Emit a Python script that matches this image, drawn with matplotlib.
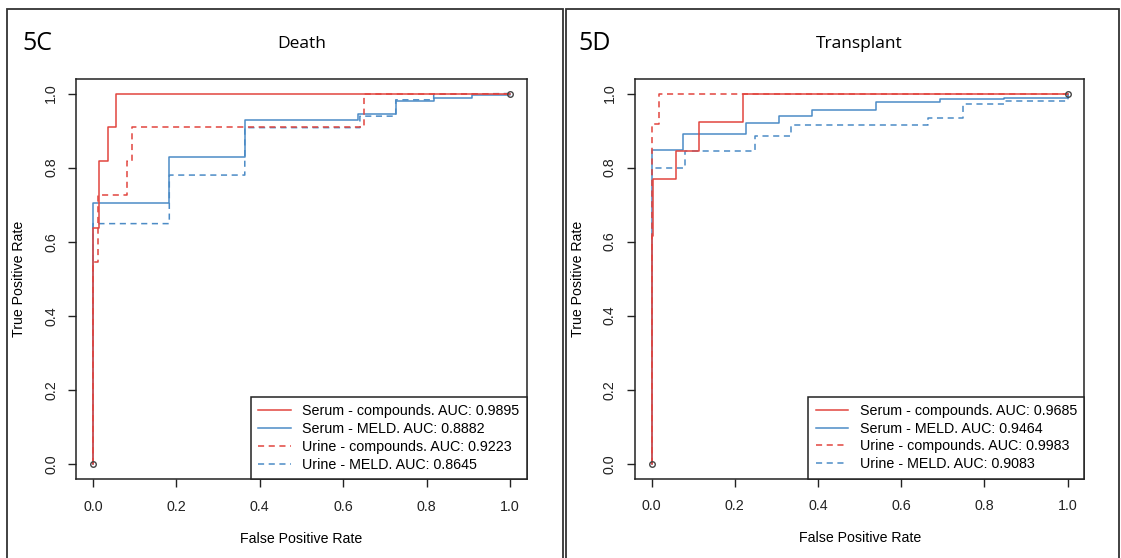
import matplotlib
matplotlib.use("Agg")
import matplotlib.pyplot as plt
from matplotlib.patches import Rectangle

plt.rcParams['font.family'] = ['Liberation Sans', 'DejaVu Sans']

RED = '#E2453F'
BLUE = '#4C8BC6'

# ROC points (fpr, tpr), panel 5C - Death
death_serum_cmp_fpr = [0, 0, 0.015, 0.015, 0.037, 0.037, 0.056, 0.056, 1]
death_serum_cmp_tpr = [0, 0.636, 0.636, 0.818, 0.818, 0.909, 0.909, 1, 1]
death_serum_meld_fpr = [0, 0, 0.183, 0.183, 0.364, 0.364, 0.635, 0.635, 0.726, 0.726,
                        0.817, 0.817, 0.909, 0.909, 1, 1]
death_serum_meld_tpr = [0, 0.705, 0.705, 0.83, 0.83, 0.928, 0.928, 0.946, 0.946, 0.98,
                        0.98, 0.987, 0.987, 0.995, 0.995, 1]
death_urine_cmp_fpr = [0, 0, 0.011, 0.011, 0.081, 0.081, 0.093, 0.093, 0.649, 0.649, 1]
death_urine_cmp_tpr = [0, 0.545, 0.545, 0.727, 0.727, 0.818, 0.818, 0.909, 0.909, 1, 1]
death_urine_meld_fpr = [0, 0, 0.183, 0.183, 0.364, 0.364, 0.64, 0.64, 0.726, 0.726,
                        0.817, 0.817, 1]
death_urine_meld_tpr = [0, 0.649, 0.649, 0.78, 0.78, 0.908, 0.908, 0.939, 0.939, 0.983,
                        0.983, 0.998, 1]

# panel 5D - Transplant
tx_serum_cmp_fpr = [0, 0, 0.004, 0.004, 0.059, 0.059, 0.114, 0.114, 0.22, 0.22, 1]
tx_serum_cmp_tpr = [0, 0.615, 0.615, 0.769, 0.769, 0.846, 0.846, 0.923, 0.923, 1, 1]
tx_serum_meld_fpr = [0, 0, 0.075, 0.075, 0.228, 0.228, 0.306, 0.306, 0.385, 0.385,
                     0.54, 0.54, 0.692, 0.692, 0.846, 0.846, 1, 1]
tx_serum_meld_tpr = [0, 0.848, 0.848, 0.89, 0.89, 0.921, 0.921, 0.94, 0.94, 0.955,
                     0.955, 0.978, 0.978, 0.985, 0.985, 0.989, 0.989, 1]
tx_urine_cmp_fpr = [0, 0, 0.018, 0.018, 1]
tx_urine_cmp_tpr = [0, 0.917, 0.917, 1, 1]
tx_urine_meld_fpr = [0, 0, 0.081, 0.081, 0.248, 0.248, 0.334, 0.334, 0.664, 0.664,
                     0.749, 0.749, 0.846, 0.846, 1, 1]
tx_urine_meld_tpr = [0, 0.8, 0.8, 0.846, 0.846, 0.886, 0.886, 0.915, 0.915, 0.933,
                     0.933, 0.973, 0.973, 0.98, 0.98, 1]

death_labels = ["Serum - compounds. AUC: 0.9895", "Serum - MELD. AUC: 0.8882",
                "Urine - compounds. AUC: 0.9223", "Urine - MELD. AUC: 0.8645"]
tx_labels = ["Serum - compounds. AUC: 0.9685", "Serum - MELD. AUC: 0.9464",
             "Urine - compounds. AUC: 0.9983", "Urine - MELD. AUC: 0.9083"]

ticks = [0.0, 0.2, 0.4, 0.6, 0.8, 1.0]

W, H = 1121, 558
fig = plt.figure(figsize=(W / 100, H / 100), dpi=100)


def px(x0, y0, x1, y1):
    # pixel box (top-left origin) -> figure fraction rect
    return [x0 / W, 1 - y1 / H, (x1 - x0) / W, (y1 - y0) / H]


def roc_panel(rect, curves, labels, title, tag, tag_x):
    ax = fig.add_axes(rect)
    styles = [(RED, '-'), (BLUE, '-'), (RED, '--'), (BLUE, '--')]
    # draw blue first so red sits on top like the original
    order = [1, 3, 0, 2]
    handles = [None] * 4
    for i in order:
        fpr, tpr = curves[i]
        col, ls = styles[i]
        ln, = ax.plot(fpr, tpr, color=col, lw=1.1, ls=ls, label=labels[i])
        if ls == '--':
            ln.set_dashes((4, 3))
        handles[i] = ln
    ax.plot([0, 1], [0, 1], ls='none', marker='o', ms=4, mfc='none',
            mec='#444444', mew=1.0)
    ax.set_xlim(-0.04, 1.04)
    ax.set_ylim(-0.04, 1.04)
    ax.set_xticks(ticks)
    ax.set_yticks(ticks)
    ax.set_xticklabels([f"{t:.1f}" for t in ticks])
    ax.set_yticklabels([f"{t:.1f}" for t in ticks], rotation=90, va='center')
    ax.tick_params(direction='out', length=6, width=1, labelsize=10.3,
                   colors='#222222', pad=9)
    ax.tick_params(axis='y', pad=7)
    for s in ax.spines.values():
        s.set_linewidth(1.1)
        s.set_color('#222222')
    ax.set_xlabel("False Positive Rate", fontsize=10.2, labelpad=13)
    ax.set_ylabel("True Positive Rate", fontsize=10.2, labelpad=13)
    leg = ax.legend(handles=handles, loc='lower right', fontsize=10.3,
                    frameon=True, fancybox=False, edgecolor='#222222',
                    borderaxespad=0, handlelength=2.3, handletextpad=0.8,
                    labelspacing=0.27, borderpad=0.5, framealpha=1)
    leg.get_frame().set_linewidth(1.1)
    fig.text(rect[0] + rect[2] / 2, 1 - 44 / H, title, ha='center', va='center',
             fontsize=12.5, family=['Open Sans', 'DejaVu Sans'])
    fig.text(tag_x / W, 1 - 43 / H, tag, ha='left', va='center',
             fontsize=18, family=['Open Sans', 'DejaVu Sans'])
    return ax


roc_panel(px(76.3, 78.7, 526.7, 479),
          [(death_serum_cmp_fpr, death_serum_cmp_tpr),
           (death_serum_meld_fpr, death_serum_meld_tpr),
           (death_urine_cmp_fpr, death_urine_cmp_tpr),
           (death_urine_meld_fpr, death_urine_meld_tpr)],
          death_labels, "Death", "5C", 22)

roc_panel(px(635, 78.7, 1084.3, 478.5),
          [(tx_serum_cmp_fpr, tx_serum_cmp_tpr),
           (tx_serum_meld_fpr, tx_serum_meld_tpr),
           (tx_urine_cmp_fpr, tx_urine_cmp_tpr),
           (tx_urine_meld_fpr, tx_urine_meld_tpr)],
          tx_labels, "Transplant", "5D", 578)

# panel frames around each figure part
fig.add_artist(Rectangle((7 / W, -0.05), (562.7 - 7) / W, 1.05 - 9.3 / H,
                         transform=fig.transFigure, fill=False, lw=1.3,
                         edgecolor='#333333'))
fig.add_artist(Rectangle((566 / W, -0.05), (1119.3 - 566) / W, 1.05 - 9.3 / H,
                         transform=fig.transFigure, fill=False, lw=1.3,
                         edgecolor='#333333'))

fig.savefig("out.png", dpi=100)
